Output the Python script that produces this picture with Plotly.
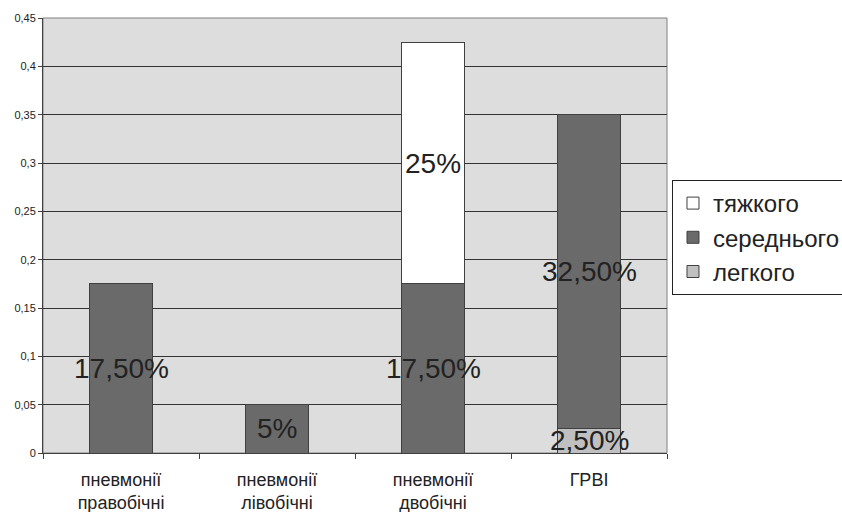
import plotly.graph_objects as go

categories = ["пневмонії<br>правобічні", "пневмонії<br>лівобічні", "пневмонії<br>двобічні", "ГРВІ"]
legkogo = [0, 0, 0, 0.025]
serednogo = [0.175, 0.05, 0.175, 0.325]
tyazhkogo = [0, 0, 0.25, 0]
y_ticks = [0, 0.05, 0.1, 0.15, 0.2, 0.25, 0.3, 0.35, 0.4, 0.45]

FONT = "Liberation Sans, Arial, sans-serif"

def fmt(v):
    p = v * 100
    if abs(p - round(p)) < 1e-9:
        return f"{int(round(p))}%"
    return f"{p:.2f}%".replace(".", ",")

series = [
    ("легкого", legkogo, "#c0c0c0"),
    ("середнього", serednogo, "#6a6a6a"),
    ("тяжкого", tyazhkogo, "#ffffff"),
]

fig = go.Figure()
for name, vals, color in series:
    fig.add_trace(go.Bar(
        x=categories, y=vals, name=name,
        marker=dict(color=color, line=dict(color="#404040", width=1)),
        width=0.4,
    ))

annotations = []
base = [0.0] * len(categories)
for name, vals, color in series:
    for i, v in enumerate(vals):
        if v > 0:
            annotations.append(dict(
                x=categories[i], y=base[i] + v / 2, xref="x", yref="y",
                text=fmt(v), showarrow=False, yanchor="middle",
                font=dict(family=FONT, size=28, color="#222222"),
            ))
        base[i] += v

fig.update_layout(
    barmode="stack",
    width=842, height=512,
    margin=dict(l=43, r=175, t=18, b=59, autoexpand=False),
    paper_bgcolor="white",
    plot_bgcolor="#dddddd",
    separators=", ",
    font=dict(family=FONT, color="#222222"),
    annotations=annotations,
    legend=dict(
        x=1.008, y=0.6276, xanchor="left", yanchor="top",
        traceorder="reversed",
        font=dict(family=FONT, size=24, color="#222222"),
        bgcolor="white", bordercolor="#222222", borderwidth=1,
        itemwidth=30,
    ),
    shapes=[dict(type="rect", xref="paper", yref="paper", x0=0, y0=0, x1=1, y1=1,
                 line=dict(color="#808080", width=1), layer="below")],
)
fig.update_yaxes(
    range=[0, 0.45], tickvals=y_ticks,
    showgrid=True, gridcolor="#333333", gridwidth=1,
    showline=True, linecolor="#404040", linewidth=1,
    ticks="outside", ticklen=4, tickcolor="#404040",
    tickfont=dict(size=11, family=FONT, color="#222222"),
    zeroline=False,
)
fig.update_xaxes(
    showline=True, linecolor="#404040", linewidth=1,
    ticks="outside", ticklen=5, tickcolor="#404040",
    tickson="boundaries",
    tickfont=dict(size=18, family=FONT, color="#222222"),
    ticklabelstandoff=10,
)

fig.write_html("out.html")
